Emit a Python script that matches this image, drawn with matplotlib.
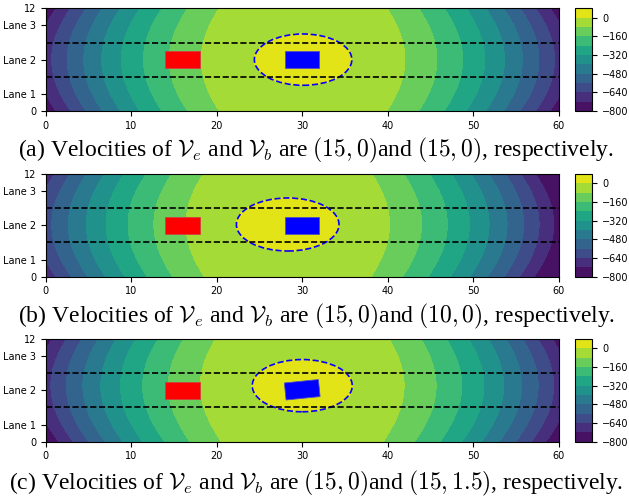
import numpy as np
import matplotlib.pyplot as plt
from matplotlib.patches import Rectangle, Ellipse

plt.rcParams['mathtext.fontset'] = 'cm'

# road layout
lane_ticks = [0, 2, 6, 10, 12]
lane_labels = ['0', 'Lane 1', 'Lane 2', 'Lane 3', '12']
lane_marks = [4, 8]
levels = np.arange(-800, 81, 80)

# field shape
field_peak = 30.0
field_kx = 0.775
field_kxy = 0.1

# per panel values
ego_xy = [(14, 5), (14, 5), (14, 5)]
obs_center = [(30, 6), (30, 6), (30, 6.07)]
obs_angle = [0, 0, 5.7]
risk_center = [(30.1, 6.0), (28.3, 6.1), (30.0, 6.55)]
risk_width = [11.4, 12.0, 11.7]
risk_height = [6.0, 6.2, 6.1]
captions = [
    r"(a) Velocities of $\mathcal{V}_e$ and $\mathcal{V}_b$ are $(15,0)$and $(15,0)$, respectively.",
    r"(b) Velocities of $\mathcal{V}_e$ and $\mathcal{V}_b$ are $(15,0)$and $(10,0)$, respectively.",
    r"(c) Velocities of $\mathcal{V}_e$ and $\mathcal{V}_b$ are $(15,0)$and $(15,1.5)$, respectively.",
]

# layout (figure fractions)
ax_bottoms = [0.7776, 0.4455, 0.1148]
cap_y = [0.699, 0.3667, 0.032]

fig = plt.figure(figsize=(6.29, 4.99), dpi=100)

xs = np.linspace(0, 60, 601)
ys = np.linspace(0, 12, 241)
X, Y = np.meshgrid(xs, ys)

for i in range(3):
    ax = fig.add_axes([0.0727, ax_bottoms[i], 0.8156, 0.2058])
    cx, cy = risk_center[i]
    dx = X - cx
    dy = Y - cy
    Z = field_peak - field_kx * dx ** 2 - field_kxy * np.abs(dx) * dy ** 2
    inside = (dx / (risk_width[i] / 2)) ** 2 + (dy / (risk_height[i] / 2)) ** 2 <= 1
    Z = np.where(inside, 40, np.clip(Z, -799, -1))
    cs = ax.contourf(X, Y, Z, levels=levels, cmap='viridis')

    for yl in lane_marks:
        ax.plot([0, 60], [yl, yl], color='black', ls='--', lw=1.2)

    ax.add_patch(Rectangle(ego_xy[i], 4, 2, facecolor='red', edgecolor='#d04040', lw=0.6))
    ox, oy = obs_center[i]
    ax.add_patch(Rectangle((ox - 2, oy - 1), 4, 2, angle=obs_angle[i], rotation_point='center',
                           facecolor='blue', edgecolor='#5050c0', lw=0.6))
    ax.add_patch(Ellipse((cx, cy), risk_width[i], risk_height[i], fill=False,
                         edgecolor='blue', ls='--', lw=1.2))

    ax.set_xlim(0, 60)
    ax.set_ylim(0, 12)
    ax.set_yticks(lane_ticks)
    ax.set_yticklabels(lane_labels)
    ax.tick_params(labelsize=7)

    cax = fig.add_axes([0.9142, ax_bottoms[i], 0.0275, 0.2058])
    cb = fig.colorbar(cs, cax=cax)
    cax.tick_params(labelsize=7)

    fig.text(0.503, cap_y[i], captions[i], ha='center', va='center',
             fontsize=17, family='Liberation Serif')

fig.savefig('out.png', dpi=100)
